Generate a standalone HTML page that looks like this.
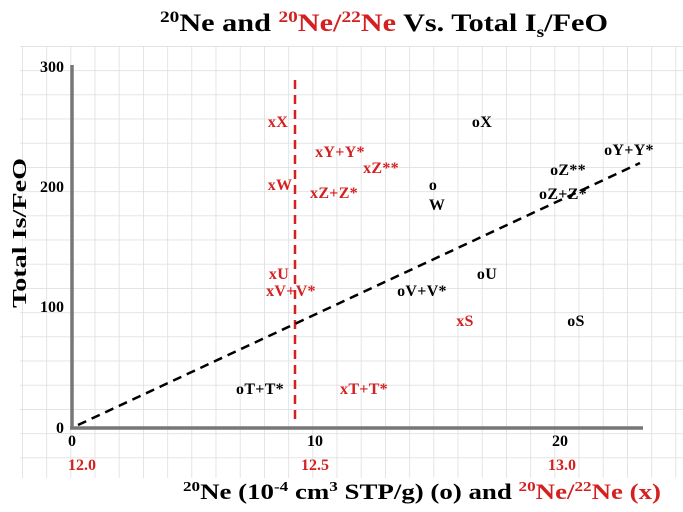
<!DOCTYPE html>
<html><head><style>
body{margin:0;background:#fff;}
svg{display:block;}
text{font-family:"Liberation Serif",serif;font-weight:bold;}
</style></head><body>
<svg width="683" height="512" viewBox="0 0 683 512">
<defs>
<pattern id="g" x="22" y="46" width="24.2" height="24.2" patternUnits="userSpaceOnUse">
<path d="M0 0H24.2M0 0V24.2" stroke="#dcdcdc" stroke-width="1.5" fill="none"/>
</pattern>
</defs>
<rect x="20" y="46" width="663" height="432" fill="url(#g)"/>
<text x="384" y="31" font-size="25" text-anchor="middle" textLength="448" lengthAdjust="spacingAndGlyphs" fill="#000"><tspan font-size="16" dy="-9">20</tspan><tspan dy="9">Ne and </tspan><tspan fill="#d42020" font-size="16" dy="-9">20</tspan><tspan fill="#d42020" dy="9">Ne/</tspan><tspan fill="#d42020" font-size="16" dy="-9">22</tspan><tspan fill="#d42020" dy="9">Ne</tspan><tspan> Vs. Total I</tspan><tspan font-size="16" dy="6">s</tspan><tspan dy="-6">/FeO</tspan></text>
<line x1="72" y1="65" x2="72" y2="428" stroke="#777" stroke-width="3.5"/>
<line x1="70" y1="428" x2="643" y2="428" stroke="#777" stroke-width="3.5"/>
<g font-size="16" fill="#000" text-anchor="end">
<text x="64" y="72">300</text><text x="64" y="192">200</text><text x="64" y="312">100</text><text x="64" y="433">0</text>
</g>
<g font-size="16" text-anchor="middle">
<text x="72" y="446">0</text><text x="315" y="446">10</text><text x="560" y="446">20</text>
<text x="82" y="470" fill="#d42020">12.0</text><text x="315" y="470" fill="#d42020">12.5</text><text x="562" y="470" fill="#d42020">13.0</text>
</g>
<text transform="translate(26,233) rotate(-90)" font-size="20" text-anchor="middle" textLength="150" lengthAdjust="spacingAndGlyphs">Total Is/FeO</text>
<text x="422" y="499" font-size="22" text-anchor="middle" textLength="478" lengthAdjust="spacingAndGlyphs"><tspan font-size="14" dy="-8">20</tspan><tspan dy="8">Ne (10</tspan><tspan font-size="14" dy="-8">-4</tspan><tspan dy="8"> cm</tspan><tspan font-size="14" dy="-8">3</tspan><tspan dy="8"> STP/g) (o) and </tspan><tspan fill="#d42020" font-size="14" dy="-8">20</tspan><tspan fill="#d42020" dy="8">Ne/</tspan><tspan fill="#d42020" font-size="14" dy="-8">22</tspan><tspan fill="#d42020" dy="8">Ne (x)</tspan></text>
<line x1="295" y1="80" x2="295" y2="425" stroke="#d42020" stroke-width="2.5" stroke-dasharray="9,6"/>
<line x1="78" y1="425" x2="640" y2="163" stroke="#000" stroke-width="2.5" stroke-dasharray="9,6"/>
<g font-size="16" text-anchor="middle" letter-spacing="0.3">
<g fill="#d42020">
<text x="278" y="127">xX</text><text x="340" y="157">xY+Y*</text><text x="381" y="173">xZ**</text>
<text x="280" y="190">xW</text><text x="334" y="198">xZ+Z*</text><text x="279" y="279">xU</text>
<text x="291" y="296">xV+V*</text><text x="465" y="326">xS</text><text x="364" y="394">xT+T*</text>
</g>
<g fill="#000">
<text x="482" y="127">oX</text><text x="629" y="155">oY+Y*</text><text x="568" y="175">oZ**</text>
<text x="433" y="190">o</text><text x="437" y="210">W</text><text x="563" y="199">oZ+Z*</text>
<text x="487" y="279">oU</text><text x="422" y="296">oV+V*</text><text x="576" y="326">oS</text>
<text x="260" y="394">oT+T*</text>
</g>
</g>
</svg>
</body></html>
